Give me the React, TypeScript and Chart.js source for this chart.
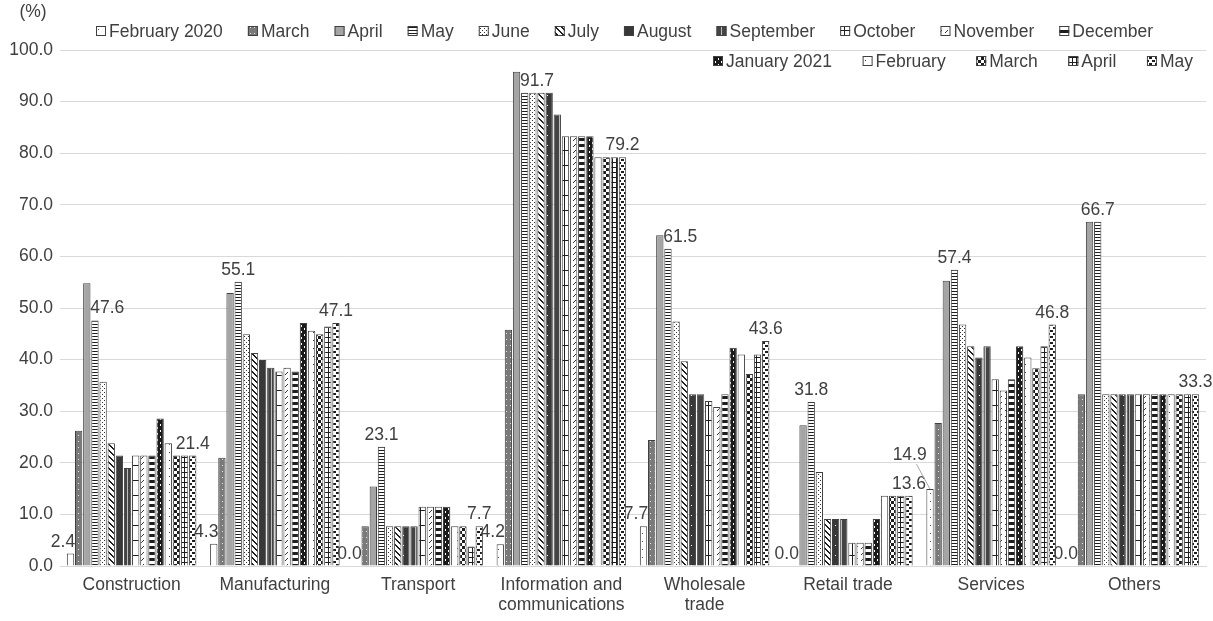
import React, { useEffect, useRef } from 'react';
import { Chart, registerables } from 'chart.js';

Chart.register(...registerables);

// ---------- data ----------
const categories: (string | string[])[] = [
  'Construction',
  'Manufacturing',
  'Transport',
  ['Information and', 'communications'],
  ['Wholesale', 'trade'],
  'Retail trade',
  'Services',
  'Others',
];

const seriesNames = [
  'February 2020', 'March', 'April', 'May', 'June', 'July', 'August',
  'September', 'October', 'November', 'December',
  'January 2021', 'February', 'March', 'April', 'May',
];

const feb2020 = [2.4, 4.3, 0.0, 4.2, 7.7, 0.0, 14.9, 0.0];
const mar2020 = [26.2, 21.0, 7.7, 45.8, 24.4, 0.0, 27.7, 33.3];
const apr2020 = [54.8, 52.9, 15.4, 95.8, 64.1, 27.3, 55.3, 66.7];
const may2020 = [47.6, 55.1, 23.1, 91.7, 61.5, 31.8, 57.4, 66.7];
const jun2020 = [35.7, 44.9, 7.7, 91.7, 47.4, 18.2, 46.8, 33.3];
const jul2020 = [23.8, 41.3, 7.7, 91.7, 39.7, 9.1, 42.6, 33.3];
const aug2020 = [21.4, 39.9, 7.7, 91.7, 33.3, 9.1, 40.4, 33.3];
const sep2020 = [19.0, 38.4, 7.7, 87.5, 33.3, 9.1, 42.6, 33.3];
const oct2020 = [21.4, 37.7, 11.5, 83.3, 32.0, 4.5, 36.2, 33.3];
const nov2020 = [21.4, 38.4, 11.5, 83.3, 30.8, 4.5, 34.0, 33.3];
const dec2020 = [21.4, 37.7, 11.5, 83.3, 33.3, 4.5, 36.2, 33.3];
const jan2021 = [28.6, 47.1, 11.5, 83.3, 42.3, 9.1, 42.6, 33.3];
const feb2021 = [23.8, 45.6, 7.7, 79.2, 41.0, 13.6, 40.4, 33.3];
const mar2021 = [21.4, 44.9, 7.7, 79.2, 37.2, 13.6, 38.3, 33.3];
const apr2021 = [21.4, 46.4, 3.8, 79.2, 41.0, 13.6, 42.6, 33.3];
const may2021 = [21.4, 47.1, 7.7, 79.2, 43.6, 13.6, 46.8, 33.3];

const seriesValues = [
  feb2020, mar2020, apr2020, may2020, jun2020, jul2020, aug2020, sep2020,
  oct2020, nov2020, dec2020, jan2021, feb2021, mar2021, apr2021, may2021,
];

const labeledSeries = [0, 3, 15];
const yTicks = [0, 10, 20, 30, 40, 50, 60, 70, 80, 90, 100];

// ---------- style ----------
const FONT = '"Liberation Sans", Arial, Helvetica, sans-serif';
const FS = 17.5;
const TEXT = '#404040';
const GRID = '#d9d9d9';
const BORDER = '#404040';

type Painter = (g: CanvasRenderingContext2D) => void;

function makeTile(w: number, h: number, bg: string, paint: Painter): CanvasPattern | string {
  const c = document.createElement('canvas');
  c.width = w;
  c.height = h;
  const g = c.getContext('2d');
  if (!g) return bg;
  g.fillStyle = bg;
  g.fillRect(0, 0, w, h);
  paint(g);
  const p = g.createPattern(c, 'repeat');
  return p || bg;
}

function buildFills(): (CanvasPattern | string)[] {
  const K = '#1e1e1e';
  return [
    makeTile(8, 8, '#ffffff', (g) => { g.fillStyle = '#555'; g.fillRect(2, 5, 1, 1); }),
    makeTile(4, 6, '#7a7a7a', (g) => { g.fillStyle = '#e6e6e6'; g.fillRect(2, 3, 1, 1); }),
    '#a5a5a5',
    makeTile(1, 3, '#ffffff', (g) => { g.fillStyle = K; g.fillRect(0, 0, 1, 1); }),
    makeTile(4, 4, '#ffffff', (g) => { g.fillStyle = '#333'; g.fillRect(0, 0, 1, 1); g.fillRect(2, 2, 1, 1); }),
    makeTile(6, 6, '#ffffff', (g) => {
      g.fillStyle = K;
      for (let i = 0; i < 6; i++) { g.fillRect(i, i, 1, 1); g.fillRect((i + 1) % 6, i, 1, 1); }
    }),
    makeTile(8, 10, '#383838', (g) => { g.fillStyle = '#ffffff'; g.fillRect(3, 5, 1, 1); }),
    makeTile(6, 1, '#444444', (g) => { g.fillStyle = '#bdbdbd'; g.fillRect(1, 0, 1, 1); }),
    makeTile(8, 15, '#ffffff', (g) => { g.fillStyle = K; g.fillRect(0, 0, 8, 1); g.fillRect(4, 0, 1, 15); }),
    makeTile(6, 6, '#ffffff', (g) => {
      g.fillStyle = '#333';
      for (let i = 0; i < 3; i++) g.fillRect(5 - i, i, 1, 1);
    }),
    makeTile(1, 6, '#ffffff', (g) => { g.fillStyle = K; g.fillRect(0, 0, 1, 3); }),
    makeTile(6, 6, '#1a1a1a', (g) => { g.fillStyle = '#ffffff'; g.fillRect(1, 1, 1, 2); g.fillRect(4, 4, 1, 2); }),
    makeTile(8, 8, '#ffffff', (g) => { g.fillStyle = '#333'; g.fillRect(1, 4, 1, 1); }),
    makeTile(6, 6, '#ffffff', (g) => { g.fillStyle = K; g.fillRect(0, 0, 3, 3); g.fillRect(3, 3, 3, 3); }),
    makeTile(4, 5, '#ffffff', (g) => { g.fillStyle = K; g.fillRect(0, 0, 1, 5); g.fillRect(0, 2, 4, 1); }),
    makeTile(6, 6, '#ffffff', (g) => { g.fillStyle = K; g.fillRect(0, 0, 3, 2); g.fillRect(3, 3, 3, 2); }),
  ];
}

const legendRows = [
  { from: 0, to: 11, startX: 96, endX: 1153, y: 31 },
  { from: 11, to: 16, startX: 713, endX: 1193, y: 61 },
];

type Box = { x0: number; x1: number; y0: number; y1: number };
const overlaps = (a: Box, b: Box) => a.x0 < b.x1 && b.x0 < a.x1 && a.y0 < b.y1 && b.y0 < a.y1;

export default function App() {
  const canvasRef = useRef<HTMLCanvasElement | null>(null);

  useEffect(() => {
    const canvas = canvasRef.current;
    if (!canvas) return;
    const fills = buildFills();

    const valueLabels = {
      id: 'valueLabels',
      afterDatasetsDraw(chart: any) {
        const ctx = chart.ctx as CanvasRenderingContext2D;
        ctx.save();
        ctx.font = `${FS}px ${FONT}`;
        ctx.fillStyle = TEXT;
        ctx.textBaseline = 'alphabetic';
        ctx.textAlign = 'left';
        const placed: Box[] = [];
        const textH = 13;
        // place later series first so the earliest series yields on collision
        [...labeledSeries].reverse().forEach((di) => {
          const meta = chart.getDatasetMeta(di);
          meta.data.forEach((el: any, i: number) => {
            const v = seriesValues[di][i];
            const txt = v.toFixed(1);
            const w = ctx.measureText(txt).width;
            const half = el.width / 2;
            const left = el.x - half;
            const right = el.x + half;
            const prev = di > 0 ? seriesValues[di - 1][i] : -1;
            const next = di < seriesValues.length - 1 ? seriesValues[di + 1][i] : -1;
            let x0 = el.x - w / 2;
            if (next > v) x0 = right - w + 1;        // taller bar on the right: align to right edge
            else if (prev > v) x0 = left - 1;        // taller bar on the left: align to left edge
            let base = el.y - 7;
            let box: Box = { x0, x1: x0 + w, y0: base - textH, y1: base };
            let moved = false;
            while (placed.some((b) => overlaps(b, box))) {
              base -= textH + 9;
              x0 -= 8;
              box = { x0, x1: x0 + w, y0: base - textH, y1: base };
              moved = true;
            }
            if (moved) {
              ctx.save();
              ctx.strokeStyle = '#a6a6a6';
              ctx.lineWidth = 1;
              ctx.beginPath();
              ctx.moveTo(x0 + w * 0.7, base + 4);
              ctx.lineTo(el.x, el.y);
              ctx.stroke();
              ctx.restore();
            }
            placed.push(box);
            ctx.fillText(txt, x0, base);
          });
        });
        ctx.restore();
      },
    };

    const customLegend = {
      id: 'customLegend',
      afterDraw(chart: any) {
        const ctx = chart.ctx as CanvasRenderingContext2D;
        ctx.save();
        ctx.font = `${FS}px ${FONT}`;
        ctx.textBaseline = 'middle';
        ctx.textAlign = 'left';
        const box = 10;
        const gapBoxText = 3;
        legendRows.forEach((row) => {
          const items = seriesNames.slice(row.from, row.to);
          const widths = items.map((t) => box + gapBoxText + ctx.measureText(t).width);
          const total = widths.reduce((a, b) => a + b, 0);
          const gap = items.length > 1 ? (row.endX - row.startX - total) / (items.length - 1) : 0;
          let x = row.startX;
          items.forEach((t, k) => {
            const idx = row.from + k;
            ctx.fillStyle = fills[idx] as any;
            ctx.fillRect(x, row.y - box / 2, box, box);
            ctx.strokeStyle = BORDER;
            ctx.lineWidth = 1;
            ctx.strokeRect(x + 0.5, row.y - box / 2 + 0.5, box - 1, box - 1);
            ctx.fillStyle = TEXT;
            ctx.fillText(t, x + box + gapBoxText, row.y + 1);
            x += widths[k] + gap;
          });
        });
        ctx.textAlign = 'center';
        ctx.fillStyle = TEXT;
        ctx.fillText('(%)', 33, 12);
        ctx.restore();
      },
    };

    const chart = new Chart(canvas, {
      type: 'bar',
      data: {
        labels: categories as any,
        datasets: seriesValues.map((vals, i) => ({
          label: seriesNames[i],
          data: vals,
          backgroundColor: fills[i] as any,
          borderColor: BORDER,
          borderWidth: 1,
          borderSkipped: 'bottom' as const,
          categoryPercentage: 0.91,
          barPercentage: 0.9,
        })),
      },
      options: {
        responsive: false,
        animation: false,
        devicePixelRatio: 1,
        layout: { padding: { top: 50, right: 7, left: 0, bottom: 0 } },
        plugins: {
          legend: { display: false },
          tooltip: { enabled: false },
          title: { display: false },
        },
        scales: {
          x: {
            grid: { display: false, drawTicks: false },
            border: { display: true, color: GRID },
            ticks: {
              font: { family: FONT, size: FS, lineHeight: 1.15 },
              color: TEXT,
              padding: 9,
              maxRotation: 0,
              autoSkip: false,
            },
            afterFit: (s: any) => { s.height = 55; },
          },
          y: {
            min: 0,
            max: 100,
            afterBuildTicks: (s: any) => { s.ticks = yTicks.map((v) => ({ value: v })); },
            ticks: {
              font: { family: FONT, size: FS },
              color: TEXT,
              padding: 7,
              callback: (v: any) => Number(v).toFixed(1),
            },
            grid: { color: GRID, drawTicks: false },
            border: { display: false },
            afterFit: (s: any) => { s.width = 60; },
          },
        },
      },
      plugins: [valueLabels, customLegend],
    });

    return () => chart.destroy();
  }, []);

  return (
    <div style={{ position: 'absolute', left: 0, top: 0, width: 1213, height: 621, background: '#ffffff' }}>
      <canvas ref={canvasRef} width={1213} height={621} style={{ display: 'block', width: 1213, height: 621 }} />
    </div>
  );
}
